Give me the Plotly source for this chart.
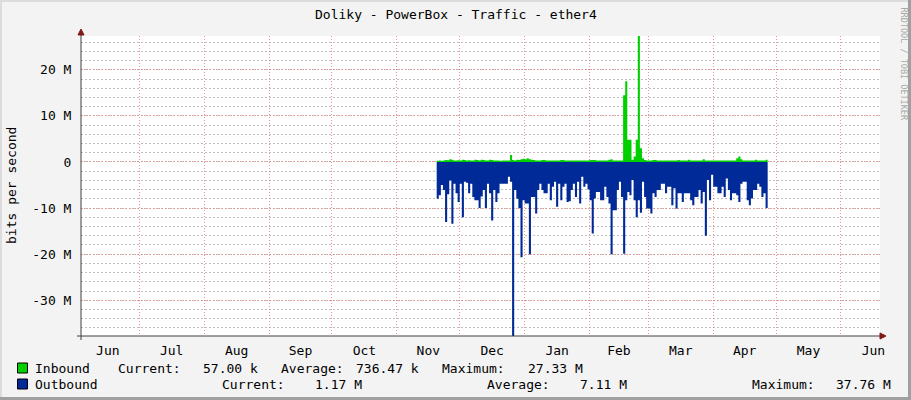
import plotly.graph_objects as go
import pandas as pd

# ---------------- data ----------------
title_text = "Doliky - PowerBox - Traffic - ether4"
y_axis_title = "bits per second"
data_start = "2016-11-20"          # first daily sample
x_range = ["2016-06-03 05:00", "2017-06-19 15:00"]

# Outbound traffic (Mbit/s), one value per day, drawn below zero
outbound_m = [
    8, 7.2, 5.0, 6.1, 13, 7, 4, 13.4, 4.7, 6.8,
    8.7, 4.7, 12, 4.3, 4.5, 6.8, 4.7, 7.6, 8.3, 8.3,
    10, 7.5, 6.1, 10, 4.7, 6.8, 12.7, 6.1, 8.7, 6.8,
    4.7, 4.7, 4.7, 4.7, 3.2, 4.3, 37.76, 6.1, 8, 10,
    20.7, 8.3, 9, 9, 20, 7.6, 7.6, 11.2, 6.1, 4.7,
    6.1, 6.8, 6.8, 4.7, 8.3, 5.4, 4.3, 9.7, 4.7, 8.3,
    5.4, 4.7, 8.7, 8.5, 6.1, 4.7, 7.6, 4.3, 9, 3.2,
    5.4, 4.7, 6, 8.3, 15.5, 7.9, 6.5, 6.5, 8.3, 8.3,
    5.4, 7.6, 9, 20, 10.5, 10.5, 6.1, 4.3, 7.6, 19.9,
    8.3, 6.5, 7.2, 3.9, 8.3, 12, 8.3, 11, 4.3, 7.6,
    10.1, 10.1, 11.2, 6.8, 7.6, 6.1, 6.1, 4.7, 4.7, 6.8,
    5.4, 5.4, 9.4, 5.7, 10.1, 6.8, 6.8, 8.7, 6.8, 6.8,
    6.8, 8.3, 9.4, 7.6, 7.6, 6.1, 9, 6.5, 16, 3.9,
    8.3, 2.8, 5.4, 5.4, 6.8, 6.8, 5.4, 7.6, 3.6, 6.1,
    8.3, 6.8, 6.8, 7.2, 8.7, 4.7, 4.3, 4.3, 8.3, 9.4,
    7.9, 6.1, 6.1, 4.7, 5.4, 7.6, 6.8, 10, 8,
]

# Inbound traffic (Mbit/s), one value per day, drawn above zero
inbound_m = [
    0.25, 0.3, 0.25, 0.3, 0.4, 0.35, 0.6, 0.5, 0.3, 0.3,
    0.35, 0.3, 0.5, 0.4, 0.3, 0.35, 0.3, 0.3, 0.5, 0.45,
    0.3, 0.5, 0.45, 0.3, 0.3, 0.5, 0.45, 0.3, 0.3, 0.3,
    0.25, 0.3, 0.3, 0.3, 0.3, 1.5, 0.4, 0.3, 0.5, 0.4,
    0.6, 0.7, 0.6, 0.8, 0.6, 0.5, 0.4, 0.3, 0.3, 0.3,
    0.4, 0.4, 0.3, 0.3, 0.3, 0.3, 0.3, 0.3, 0.3, 0.45,
    0.4, 0.3, 0.3, 0.3, 0.3, 0.3, 0.3, 0.3, 0.3, 0.3,
    0.3, 0.3, 0.3, 0.4, 0.45, 0.4, 0.3, 0.3, 0.3, 0.3,
    0.3, 0.3, 0.5, 0.6, 0.3, 0.3, 0.3, 0.3, 0.3, 14.5,
    17.5, 4.8, 4.8, 0.5, 1.2, 4.8, 27.33, 3, 0.8, 0.4,
    0.3, 0.3, 0.3, 0.4, 0.4, 0.3, 0.3, 0.3, 0.3, 0.3,
    0.3, 0.3, 0.3, 0.3, 0.3, 0.4, 0.3, 0.3, 0.3, 0.3,
    0.5, 0.3, 0.3, 0.3, 0.3, 0.3, 0.3, 0.6, 0.3, 0.3,
    0.3, 0.3, 0.3, 0.3, 0.3, 0.3, 0.3, 0.3, 0.3, 0.3,
    0.3, 0.3, 0.3, 0.8, 1.2, 0.6, 0.3, 0.3, 0.3, 0.3,
    0.3, 0.3, 0.5, 0.3, 0.3, 0.3, 0.3, 0.5, 0.057,
]

y_tick_vals = [-30e6, -20e6, -10e6, 0, 10e6, 20e6]
y_tick_text = ["-30 M", "-20 M", "-10 M", "0", "10 M", "20 M"]
y_range = [-37.76e6, 27.33e6]

series_names = ["Inbound", "Outbound"]
stat_labels = ["Current:", "Average:", "Maximum:"]
inbound_stats = ["57.00 k", "736.47 k", "27.33 M"]
outbound_stats = ["1.17 M", "7.11 M", "37.76 M"]
watermark = "RRDTOOL / TOBI OETIKER"

# ---------------- styling ----------------
GREEN = "#00CF00"
BLUE = "#002A97"
FONT = "DejaVu Sans Mono"
W, H = 911, 400
L, R, T, B = 81, 880, 36, 336


def px(x):
    return (x - L) / (R - L)


def py(y):
    return (B - y) / (B - T)


dates = pd.date_range(data_start, periods=len(outbound_m), freq="D")

fig = go.Figure()
fig.add_trace(go.Scatter(
    x=dates, y=[-v * 1e6 for v in outbound_m], mode="lines",
    line=dict(width=0, shape="hv", color=BLUE), fill="tozeroy",
    fillcolor=BLUE, name=series_names[1], hoverinfo="skip"))
fig.add_trace(go.Scatter(
    x=dates, y=[v * 1e6 for v in inbound_m], mode="lines",
    line=dict(width=0, shape="hv", color=GREEN), fill="tozeroy",
    fillcolor=GREEN, name=series_names[0], hoverinfo="skip"))

fig.update_layout(
    width=W, height=H,
    margin=dict(l=L, r=W - R, t=T, b=H - B, pad=0),
    paper_bgcolor="#F3F3F3", plot_bgcolor="#FFFFFF",
    showlegend=False,
    font=dict(family=FONT, size=12, color="#000000"),
)

fig.update_xaxes(
    type="date", range=x_range, dtick="M1", tick0="2016-07-01",
    ticklabelmode="period", tickformat="%b",
    showgrid=True, gridcolor="rgba(240,110,110,0.75)", griddash="1px,2px", gridwidth=1,
    ticks="outside", ticklen=2, tickcolor="rgba(0,0,0,0)",
    showline=False, zeroline=False,
    tickfont=dict(family=FONT, size=13, color="#000000"),
)
fig.update_yaxes(
    range=y_range, tickmode="array", tickvals=y_tick_vals, ticktext=y_tick_text,
    showgrid=True, gridcolor="rgba(240,110,110,0.75)", griddash="1px,2px", gridwidth=1,
    minor=dict(dtick=2e6, tick0=0, showgrid=True, gridcolor="rgba(175,175,175,0.8)",
               griddash="2px,2px", gridwidth=1),
    ticks="outside", ticklen=6, tickcolor="rgba(0,0,0,0)",
    showline=False, zeroline=False,
    tickfont=dict(family=FONT, size=13, color="#000000"),
)

shapes = []
# frame (3D look)
shapes.append(dict(type="rect", xref="paper", yref="paper", x0=px(0), x1=px(W), y0=py(0), y1=py(2),
                   fillcolor="#DCDCDC", line=dict(width=0), layer="below"))
shapes.append(dict(type="rect", xref="paper", yref="paper", x0=px(0), x1=px(2), y0=py(0), y1=py(H),
                   fillcolor="#DCDCDC", line=dict(width=0), layer="below"))
shapes.append(dict(type="rect", xref="paper", yref="paper", x0=px(W - 3), x1=px(W), y0=py(0), y1=py(H),
                   fillcolor="#A0A0A0", line=dict(width=0), layer="below"))
shapes.append(dict(type="rect", xref="paper", yref="paper", x0=px(0), x1=px(W), y0=py(H - 3), y1=py(H),
                   fillcolor="#A0A0A0", line=dict(width=0), layer="below"))
# axes
AX = "#404040"
shapes.append(dict(type="line", xref="paper", yref="paper", x0=px(81), x1=px(81), y0=py(340), y1=py(33),
                   line=dict(color=AX, width=1), layer="above"))
shapes.append(dict(type="line", xref="paper", yref="paper", x0=px(77), x1=px(881), y0=py(336), y1=py(336),
                   line=dict(color=AX, width=1), layer="above"))
ARROW = "#801818"
shapes.append(dict(type="path", xref="paper", yref="paper",
                   path=f"M {px(78)} {py(35)} L {px(84)} {py(35)} L {px(81)} {py(29)} Z",
                   fillcolor=ARROW, line=dict(color=ARROW, width=1), layer="above"))
shapes.append(dict(type="path", xref="paper", yref="paper",
                   path=f"M {px(880)} {py(333)} L {px(880)} {py(339)} L {px(886)} {py(336)} Z",
                   fillcolor=ARROW, line=dict(color=ARROW, width=1), layer="above"))
# legend swatches
for yy, col in [(363, GREEN), (379, BLUE)]:
    shapes.append(dict(type="rect", xref="paper", yref="paper", x0=px(17.5), x1=px(27.5),
                       y0=py(yy), y1=py(yy + 10), fillcolor=col,
                       line=dict(color="#000000", width=1), layer="above"))
fig.update_layout(shapes=shapes)

ann = []


def text(x, y, s, anchor="left", size=13, color="#000000", angle=0):
    ann.append(dict(xref="paper", yref="paper", x=px(x), y=py(y), text=s, showarrow=False,
                    xanchor=anchor, yanchor="middle", textangle=angle,
                    font=dict(family=FONT, size=size, color=color)))


text(455.5, 14, title_text, anchor="center", size=13)
text(11, 186, y_axis_title, anchor="center", size=13, angle=-90)
text(903.5, 64, watermark, anchor="center", size=8.5, color="#A8A8A8", angle=90)

# legend row 1
text(33, 368, series_names[0])
text(116, 368, stat_labels[0])
text(259.5, 368, inbound_stats[0], anchor="right")
text(279, 368, stat_labels[1])
text(421, 368, inbound_stats[1], anchor="right")
text(440, 368, stat_labels[2])
text(585, 368, inbound_stats[2], anchor="right")
# legend row 2
text(33, 384, series_names[1])
text(219.5, 384, stat_labels[0])
text(364, 384, outbound_stats[0], anchor="right")
text(485, 384, stat_labels[1])
text(628.5, 384, outbound_stats[1], anchor="right")
text(749.5, 384, stat_labels[2])
text(893, 384, outbound_stats[2], anchor="right")

fig.update_layout(annotations=ann)

fig.write_html(
    "out.html",
    config={"displayModeBar": False},
    post_script="document.body.style.margin='0';document.body.style.overflow='hidden';",
)
